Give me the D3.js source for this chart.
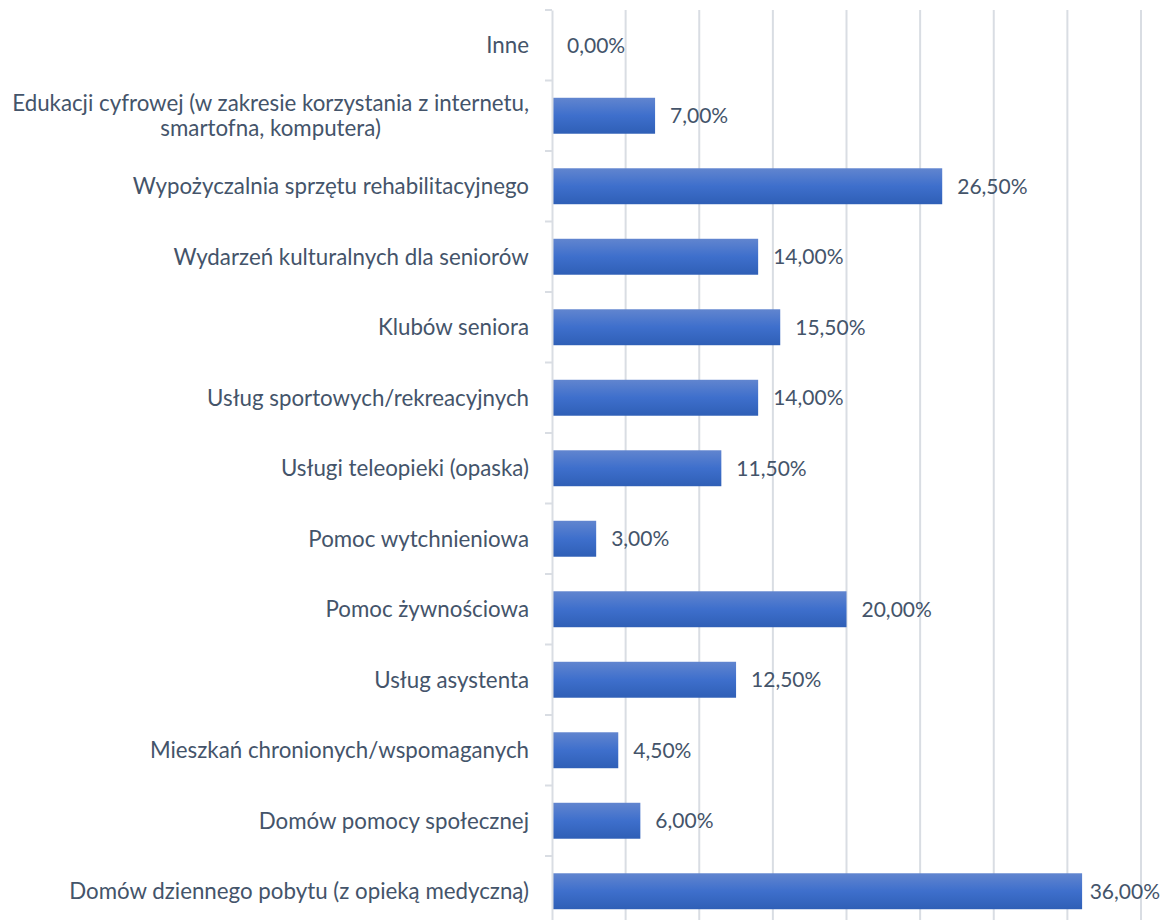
<!DOCTYPE html>
<html>
<head>
<meta charset="utf-8">
<script src="https://cdn.jsdelivr.net/npm/d3@7"></script>
<style>
  body { margin: 0; background: #fff; }
  svg text { font-family: Lato, "Open Sans", sans-serif; }
</style>
</head>
<body>
<svg id="chart" width="1168" height="920"></svg>
<script>
const categories = [
  "Inne",
  "Edukacji cyfrowej (w zakresie korzystania z internetu,|smartofna, komputera)",
  "Wypożyczalnia sprzętu rehabilitacyjnego",
  "Wydarzeń kulturalnych dla seniorów",
  "Klubów seniora",
  "Usług sportowych/rekreacyjnych",
  "Usługi teleopieki (opaska)",
  "Pomoc wytchnieniowa",
  "Pomoc żywnościowa",
  "Usług asystenta",
  "Mieszkań chronionych/wspomaganych",
  "Domów pomocy społecznej",
  "Domów dziennego pobytu (z opieką medyczną)"
];
const values = [0, 7, 26.5, 14, 15.5, 14, 11.5, 3, 20, 12.5, 4.5, 6, 36];
const xTicks = [0, 5, 10, 15, 20, 25, 30, 35, 40];

const svg = d3.select("#chart"),
      margin = { top: 10, left: 552, right: 27 },
      width = +svg.attr("width");
const bandH = 70.5;
const bottom = margin.top + bandH * categories.length;
const textColor = "#44546a";
const gridColor = "#d9dde3";

const x = d3.scaleLinear()
  .domain([0, 40])
  .range([margin.left, width - margin.right]);

const y = d3.scaleBand()
  .domain(categories)
  .range([margin.top, bottom])
  .paddingInner(0.49)
  .paddingOuter(0.245);

const defs = svg.append("defs");
const grad = defs.append("linearGradient")
  .attr("id", "barGrad")
  .attr("x1", 0).attr("y1", 0).attr("x2", 0).attr("y2", 1);
grad.append("stop").attr("offset", "0%").attr("stop-color", "#6185cf");
grad.append("stop").attr("offset", "50%").attr("stop-color", "#3e6fcc");
grad.append("stop").attr("offset", "100%").attr("stop-color", "#2f5fb6");

// vertical gridlines
svg.append("g")
  .selectAll("line")
  .data(xTicks.slice(1))
  .enter().append("line")
  .attr("x1", d => x(d)).attr("x2", d => x(d))
  .attr("y1", margin.top).attr("y2", bottom)
  .attr("stroke", gridColor)
  .attr("stroke-width", 2);

// bars
svg.append("g")
  .selectAll("rect")
  .data(values)
  .enter().append("rect")
  .attr("x", x(0))
  .attr("y", (d, i) => y(categories[i]))
  .attr("width", d => x(d) - x(0))
  .attr("height", y.bandwidth())
  .attr("fill", "url(#barGrad)");

// value labels, kept inside the right edge
svg.append("g")
  .selectAll("text")
  .data(values)
  .enter().append("text")
  .attr("x", d => x(d) + 15)
  .attr("y", (d, i) => y(categories[i]) + y.bandwidth() / 2)
  .attr("dy", "0.35em")
  .attr("font-size", "21px")
  .attr("fill", textColor)
  .text(d => d.toFixed(2).replace(".", ",") + "%")
  .each(function(d) {
    const w = this.getComputedTextLength();
    d3.select(this).attr("x", Math.min(x(d) + 15, width - 8 - w));
  });

// category axis
const yAxis = svg.append("g")
  .attr("transform", `translate(${margin.left},0)`)
  .call(d3.axisLeft(y).tickSize(0).tickFormat(""));
yAxis.select(".domain").attr("stroke", gridColor).attr("stroke-width", 2);

// tick marks between categories
svg.append("g")
  .selectAll("line")
  .data(d3.range(categories.length + 1))
  .enter().append("line")
  .attr("x1", margin.left - 7).attr("x2", margin.left)
  .attr("y1", i => margin.top + i * bandH).attr("y2", i => margin.top + i * bandH)
  .attr("stroke", gridColor)
  .attr("stroke-width", 2);

// category labels (multi-line ones centred on their widest line)
svg.append("g")
  .selectAll("text")
  .data(categories)
  .enter().append("text")
  .attr("text-anchor", "middle")
  .attr("font-size", "22.3px")
  .attr("fill", textColor)
  .each(function(d) {
    const lines = d.split("|");
    const t = d3.select(this);
    const cy = y(d) + y.bandwidth() / 2;
    const lh = 25;
    lines.forEach((line, k) => {
      t.append("tspan")
        .attr("x", 0)
        .attr("y", cy + (k - (lines.length - 1) / 2) * lh)
        .attr("dy", "0.35em")
        .text(line);
    });
  })
  .each(function() {
    const w = this.getBBox().width;
    d3.select(this).selectAll("tspan").attr("x", margin.left - 23 - w / 2);
  });
</script>
</body>
</html>
